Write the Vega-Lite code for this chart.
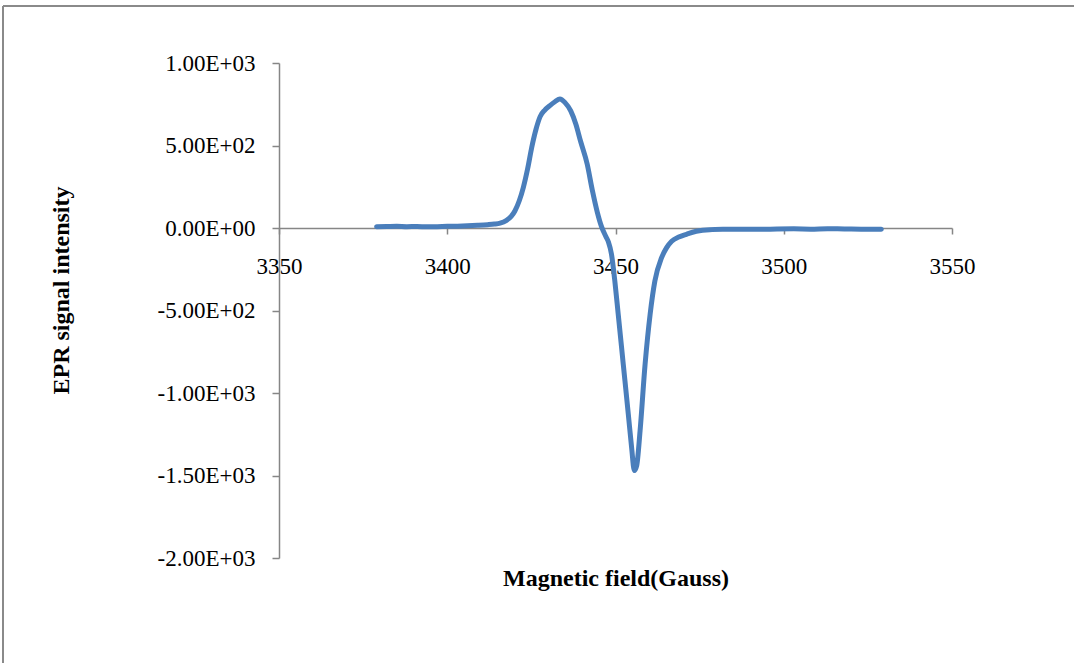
{
  "$schema": "https://vega.github.io/schema/vega-lite/v6.json",
  "autosize": "none",
  "width": 1071,
  "height": 657,
  "padding": {"left": 3, "top": 6, "right": 0, "bottom": 0},
  "background": "white",
  "config": {
    "view": {"stroke": "#8a8a8a", "strokeWidth": 2, "strokeDash": [1071, 1728, 657, 0]},
    "font": "Liberation Serif"
  },
  "data": {
    "values": [
      {"field": 3379, "signal": 8},
      {"field": 3382, "signal": 9},
      {"field": 3385, "signal": 10},
      {"field": 3388, "signal": 8},
      {"field": 3391, "signal": 9},
      {"field": 3394, "signal": 7},
      {"field": 3397, "signal": 8},
      {"field": 3400, "signal": 10},
      {"field": 3403, "signal": 11},
      {"field": 3406, "signal": 13},
      {"field": 3409, "signal": 16},
      {"field": 3412, "signal": 20},
      {"field": 3414, "signal": 24},
      {"field": 3415.7, "signal": 30},
      {"field": 3417.5, "signal": 45},
      {"field": 3419, "signal": 70},
      {"field": 3420.1, "signal": 103},
      {"field": 3421.4, "signal": 165},
      {"field": 3422.6, "signal": 245},
      {"field": 3423.9, "signal": 360},
      {"field": 3425.1, "signal": 488},
      {"field": 3426.4, "signal": 600},
      {"field": 3427.6, "signal": 675},
      {"field": 3429, "signal": 715},
      {"field": 3430.5, "signal": 742},
      {"field": 3432, "signal": 765},
      {"field": 3433.5, "signal": 782},
      {"field": 3435, "signal": 760},
      {"field": 3436.7, "signal": 710},
      {"field": 3438.2, "signal": 630},
      {"field": 3439.6, "signal": 527},
      {"field": 3441.6, "signal": 386},
      {"field": 3443.1, "signal": 230},
      {"field": 3444.6, "signal": 95},
      {"field": 3445.9, "signal": 5},
      {"field": 3447.1, "signal": -50},
      {"field": 3447.9, "signal": -85},
      {"field": 3448.8, "signal": -158},
      {"field": 3449.8, "signal": -321},
      {"field": 3450.8, "signal": -521},
      {"field": 3452.3, "signal": -824},
      {"field": 3453.8, "signal": -1127},
      {"field": 3454.8, "signal": -1333},
      {"field": 3455.6, "signal": -1470},
      {"field": 3456.3, "signal": -1440},
      {"field": 3457.3, "signal": -1230},
      {"field": 3458.8, "signal": -824},
      {"field": 3460.3, "signal": -521},
      {"field": 3461.7, "signal": -321},
      {"field": 3463.7, "signal": -180},
      {"field": 3465.2, "signal": -119},
      {"field": 3466.7, "signal": -80},
      {"field": 3468.8, "signal": -55},
      {"field": 3471.1, "signal": -38},
      {"field": 3474, "signal": -20},
      {"field": 3478, "signal": -10},
      {"field": 3483, "signal": -8},
      {"field": 3488, "signal": -7},
      {"field": 3493, "signal": -8},
      {"field": 3498, "signal": -6},
      {"field": 3503, "signal": -5},
      {"field": 3508, "signal": -7},
      {"field": 3513, "signal": -4},
      {"field": 3518, "signal": -6},
      {"field": 3523, "signal": -7},
      {"field": 3529, "signal": -8}
    ]
  },
  "mark": {"type": "line", "color": "#4a7ebb", "strokeWidth": 5, "interpolate": "monotone", "strokeCap": "round", "strokeJoin": "round"},
  "encoding": {
    "x": {
      "field": "field",
      "type": "quantitative",
      "scale": {"domain": [3350, 3550], "range": [276, 949], "nice": false, "zero": false},
      "axis": {
        "title": "Magnetic field(Gauss)",
        "values": [3350, 3400, 3450, 3500, 3550],
        "format": "d",
        "offset": -435,
        "grid": false,
        "domainColor": "#868686",
        "domainWidth": 1.5,
        "tickColor": "#868686",
        "tickWidth": 1.5,
        "tickSize": 6,
        "labelFont": "Liberation Serif",
        "labelFontSize": 23,
        "labelColor": "black",
        "labelPadding": 21,
        "labelFlush": false,
        "labelOverlap": false,
        "titleFont": "Liberation Serif",
        "titleFontSize": 24,
        "titleFontWeight": "bold",
        "titleColor": "black",
        "titleBaseline": "middle",
        "titleY": 350
      }
    },
    "y": {
      "field": "signal",
      "type": "quantitative",
      "scale": {"domain": [-2000, 1000], "range": [552, 57], "nice": false, "zero": false},
      "axis": {
        "title": "EPR signal intensity",
        "values": [1000, 500, 0, -500, -1000, -1500, -2000],
        "labelExpr": "replace(replace(format(datum.value, '.2e'), 'e+', 'E+0'), '\u2212', '-')",
        "offset": -276,
        "grid": false,
        "domainColor": "#868686",
        "domainWidth": 1.5,
        "tickColor": "#868686",
        "tickWidth": 1.5,
        "tickSize": 7,
        "labelFont": "Liberation Serif",
        "labelFontSize": 23,
        "labelColor": "black",
        "labelPadding": 17,
        "labelFlush": false,
        "labelOverlap": false,
        "titleFont": "Liberation Serif",
        "titleFontSize": 24,
        "titleFontWeight": "bold",
        "titleColor": "black",
        "titleAngle": -90,
        "titleAlign": "center",
        "titleBaseline": "middle",
        "titleX": -218,
        "titleY": 284
      }
    }
  }
}
